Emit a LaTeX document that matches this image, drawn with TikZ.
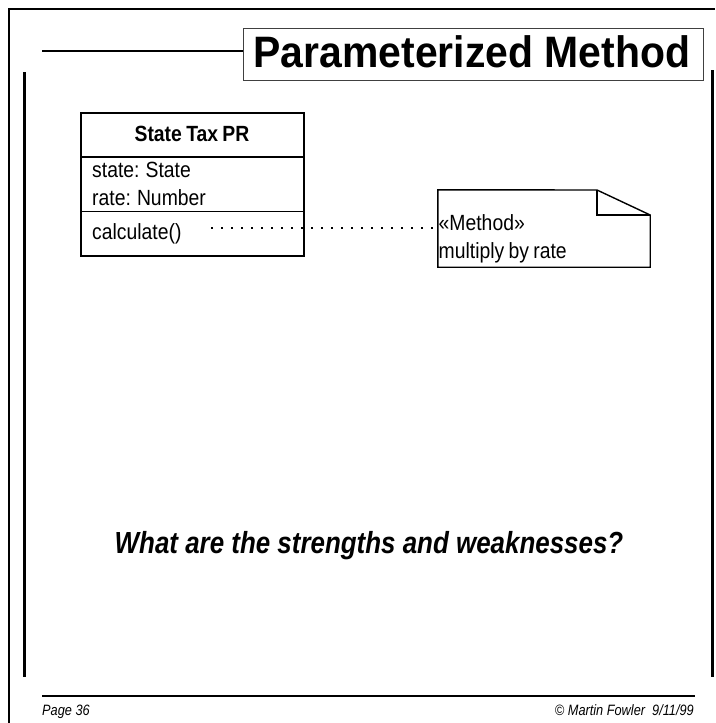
\documentclass[tikz,border=0pt]{standalone}
\usepackage{fontspec}
\setmainfont{Liberation Sans}
\newfontfamily\headfont[FakeStretch=0.93]{Liberation Sans}
\newfontfamily\bodyfont[FakeStretch=0.88,WordSpace=0.8]{Liberation Sans}
\newfontfamily\condfont[FakeStretch=0.85]{Liberation Sans}
\begin{document}
\begin{tikzpicture}[x=1pt,y=-1pt,
  frame/.style={line width=1.5pt},
  bar/.style={line width=3pt},
  rule/.style={line width=2.5pt},
  titlebox/.style={draw=black!75,line width=0.9pt,minimum width=460pt,minimum height=52pt,inner sep=0pt},
  titletext/.style={font=\headfont\fontsize{44}{44}\selectfont\bfseries,inner sep=0pt},
  classbox/.style={draw,line width=1.4pt,minimum width=223pt,minimum height=143pt,inner sep=0pt},
  umltext/.style={font=\bodyfont\fontsize{22}{22}\selectfont,inner sep=0pt},
  umlhead/.style={font=\bodyfont\fontsize{22}{22}\selectfont\bfseries,inner sep=0pt},
  notebox/.style={minimum width=212pt,minimum height=77pt,inner sep=0pt},
  noteline/.style={line width=1.4pt,line join=miter},
  dotline/.style={line width=1.5pt,dash pattern=on 1.5pt off 8.5pt},
  question/.style={font=\condfont\fontsize{30.5}{30.5}\selectfont\bfseries\itshape,inner sep=0pt},
  footer/.style={font=\condfont\fontsize{15}{15}\selectfont\itshape,inner sep=0pt}]
\useasboundingbox (0,0) rectangle (715,723);

% page frame
\draw[frame] (9,723) -- (9,9) -- (715,9);

% heading
\node[titlebox] (title) at (473,54) {};
\node[titletext,anchor=base] (titlelabel) at (472,67) {Parameterized Method};
\coordinate (ruleL) at (42,51);
\draw[rule] (ruleL) -- (ruleL -| title.west);

% side bars
\coordinate (barLtop) at (24,72);
\coordinate (barLbot) at (24,677);
\coordinate (barRtop) at (712,70);
\coordinate (barRbot) at (712,677);
\draw[bar] (barLtop) -- (barLbot);
\draw[bar] (barRtop) -- (barRbot);

% class State Tax PR
\node[classbox] (cls) at (192.5,184.5) {};
\draw[line width=1.4pt] (cls.west |- 0,157) -- (cls.east |- 0,157);
\draw[line width=1.4pt] (cls.west |- 0,211.5) -- (cls.east |- 0,211.5);
\node[umlhead,anchor=base] (clsname) at (192,141.5) {State Tax PR};
\node[umltext,anchor=base west] (attr1) at (92,177) {state: State};
\node[umltext,anchor=base west] (attr2) at (92,205.5) {rate: Number};
\node[umltext,anchor=base west] (op1) at (92,239) {calculate()};

% note with folded corner
\node[notebox] (note) at (544,228.5) {};
\coordinate (foldtop) at (597,190);
\coordinate (foldin) at (597,215);
\draw[noteline] (note.north west) -- (foldtop) -- (note.east |- foldin) -- (note.south east) -- (note.south west) -- cycle;
\draw[noteline] (foldtop) -- (foldin) -- (note.east |- foldin);
\node[umltext,anchor=base west] (note1) at (438.5,230) {«Method»};
\node[umltext,anchor=base west] (note2) at (438.5,258) {multiply by rate};

% note attachment
\coordinate (dotstart) at (211,228);
\draw[dotline] (dotstart) -- (dotstart -| note.west);

% question
\node[question,anchor=base] (q) at (369,553) {What are the strengths and weaknesses?};

% footer
\coordinate (footL) at (42,696);
\coordinate (footR) at (695,696);
\draw[rule] (footL) -- (footR);
\node[footer,anchor=base west] (page) at (42,715) {Page 36};
\node[footer,anchor=base east] (copy) at (694,715) {© Martin Fowler\ \ 9/11/99};
\end{tikzpicture}
\end{document}
